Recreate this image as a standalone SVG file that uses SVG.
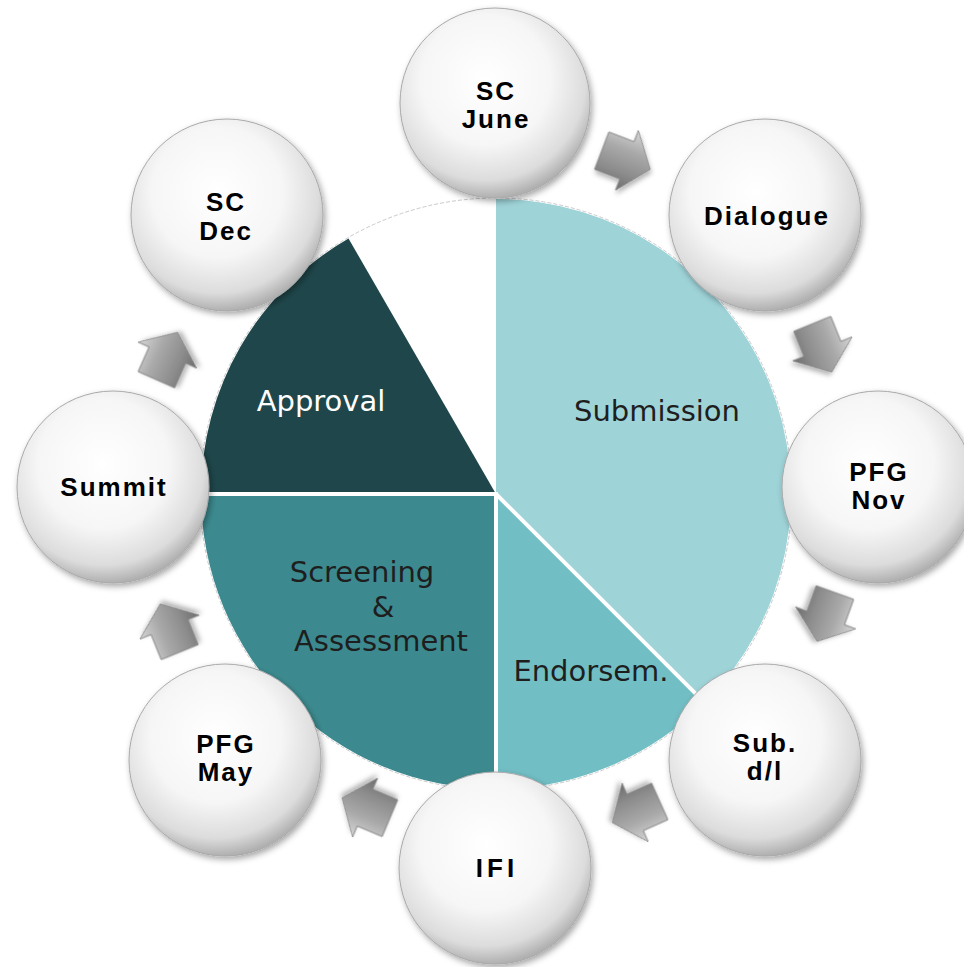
<svg xmlns="http://www.w3.org/2000/svg" width="964" height="967" viewBox="0 0 964 967">
<defs>
<radialGradient id="ball" cx="0.45" cy="0.38" r="0.62">
<stop offset="0" stop-color="#ffffff"/>
<stop offset="0.55" stop-color="#f6f6f6"/>
<stop offset="0.85" stop-color="#dcdcdc"/>
<stop offset="1" stop-color="#b0b0b0"/>
</radialGradient>
<linearGradient id="arr" x1="0" y1="0" x2="0" y2="1">
<stop offset="0" stop-color="#d6d6d6"/>
<stop offset="0.35" stop-color="#a9a9a9"/>
<stop offset="0.7" stop-color="#8d8d8d"/>
<stop offset="1" stop-color="#6c6c6c"/>
</linearGradient>
<filter id="sh" x="-20%" y="-20%" width="150%" height="150%">
<feDropShadow dx="2" dy="3" stdDeviation="3" flood-color="#000" flood-opacity="0.35"/>
</filter>
<filter id="ash" x="-30%" y="-30%" width="170%" height="170%">
<feDropShadow dx="2" dy="3" stdDeviation="2.5" flood-color="#000" flood-opacity="0.3"/>
</filter>
<path id="arrow" d="M-26,-20 L1,-20 L1,-32 L26,0 L1,32 L1,20 L-26,20 Z"/>
</defs>
<style>
.node circle{fill:url(#ball);stroke:#a9a9a9;stroke-width:1;filter:url(#sh)}
.node text{font-family:"Liberation Sans",Arial,sans-serif;font-weight:bold;font-size:26px;letter-spacing:2px;fill:#000;text-anchor:middle}
.seg text{font-family:"DejaVu Sans",Verdana,sans-serif;font-size:29px;text-anchor:middle;fill:#1e1e1e}
.arw use{fill:url(#arr);stroke:#8a8a8a;stroke-width:1;filter:url(#ash)}
</style>
<rect width="964" height="967" fill="#ffffff"/>

<g id="pie">
<circle cx="496" cy="494" r="296" fill="none" stroke="#c9c9c9" stroke-width="1" stroke-dasharray="4 2"/>
<g class="seg" id="submission">
<path d="M496,494 L496,199 A295,295 0 0 1 704.6,702.6 Z" fill="#9ed3d8"/>
<text x="657" y="421">Submission</text>
</g>
<g class="seg" id="endorsement">
<path d="M496,494 L704.6,702.6 A295,295 0 0 1 496,789 Z" fill="#71bec4"/>
<text x="591" y="681">Endorsem.</text>
</g>
<g class="seg" id="screening">
<path d="M496,494 L496,789 A295,295 0 0 1 201,494 Z" fill="#3c8a8f"/>
<text x="362" y="582">Screening</text>
<text x="383" y="617">&amp;</text>
<text x="381" y="651">Assessment</text>
</g>
<g class="seg" id="approval">
<path d="M496,494 L201,494 A295,295 0 0 1 348.5,238.5 Z" fill="#1f474b"/>
<text x="321" y="411" style="fill:#ffffff">Approval</text>
</g>
<path d="M201,494 L496,494 L496,789 M496,494 L704.6,702.6" fill="none" stroke="#ffffff" stroke-width="4"/>
</g>

<g id="connectors" class="arw">
<use href="#arrow" transform="translate(626,160) rotate(21)"/>
<use href="#arrow" transform="translate(822,348) rotate(68)"/>
<use href="#arrow" transform="translate(826,617) rotate(110)"/>
<use href="#arrow" transform="translate(636,812) rotate(156)"/>
<use href="#arrow" transform="translate(366,808) rotate(203)"/>
<use href="#arrow" transform="translate(170,628) rotate(248)"/>
<use href="#arrow" transform="translate(167,356) rotate(294)"/>
</g>

<g id="n-scjune" class="node"><circle cx="495" cy="103" r="95"/><text x="496" y="100">SC</text><text x="496" y="128">June</text></g>
<g id="n-dialogue" class="node"><circle cx="765" cy="215" r="96"/><text x="767" y="225">Dialogue</text></g>
<g id="n-pfgnov" class="node"><circle cx="878" cy="487" r="96"/><text x="879" y="481">PFG</text><text x="879" y="509">Nov</text></g>
<g id="n-subdl" class="node"><circle cx="765" cy="760" r="96"/><text x="765" y="752">Sub.</text><text x="765" y="780">d/l</text></g>
<g id="n-ifi" class="node"><circle cx="495" cy="868" r="96"/><text x="497" y="877" style="letter-spacing:4px">IFI</text></g>
<g id="n-pfgmay" class="node"><circle cx="225" cy="760" r="96"/><text x="226" y="753">PFG</text><text x="226" y="781">May</text></g>
<g id="n-summit" class="node"><circle cx="113" cy="487" r="96"/><text x="114" y="496">Summit</text></g>
<g id="n-scdec" class="node"><circle cx="227" cy="215" r="96"/><text x="226" y="211">SC</text><text x="226" y="240">Dec</text></g>
</svg>
